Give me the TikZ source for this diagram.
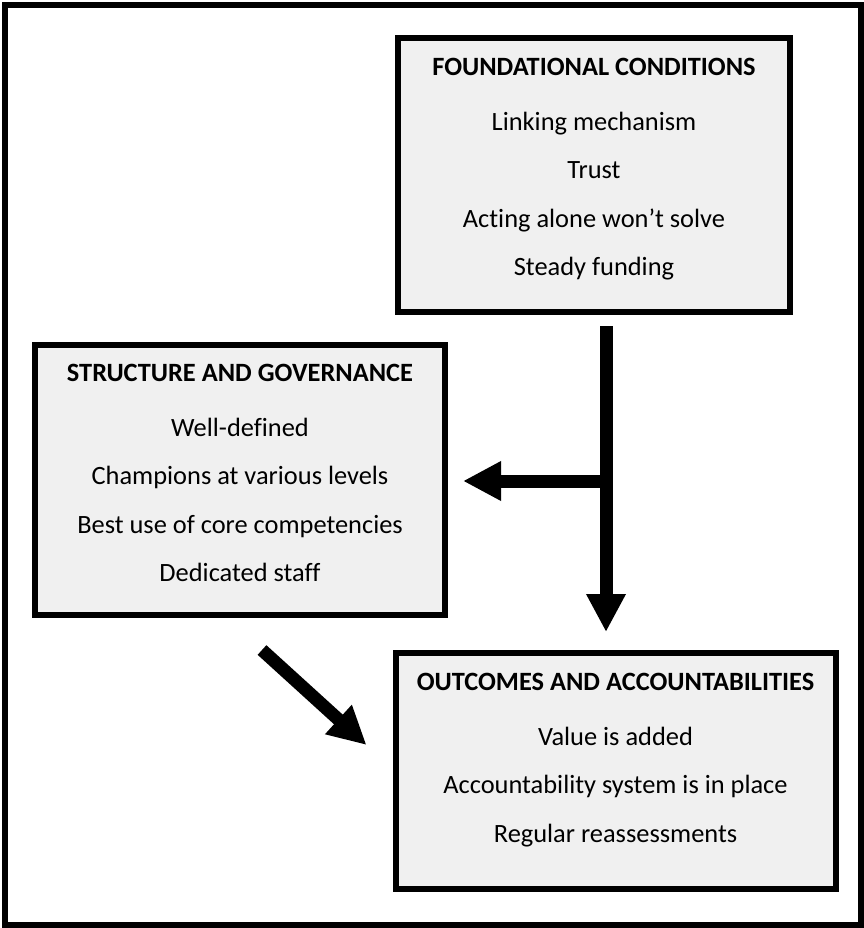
\documentclass[tikz,border=0pt]{standalone}
\usepackage{xcolor}
\usepackage{fontspec}
\setmainfont{Carlito}[Ligatures=NoCommon]
\usepackage{tikz}
\usetikzlibrary{arrows.meta}

\begin{document}
\begin{tikzpicture}[x=1pt, y=-1pt,
    box/.style={draw, line width=6pt, fill={rgb:black,1;white,16}, inner sep=0pt, outer sep=0pt},
    lines/.style={align=center, inner sep=0pt, anchor=north, font=\fontsize{26.4pt}{48.5pt}\selectfont},
    bigarrow/.style={line width=13pt, -{Triangle[width=37pt, length=38pt]}}]
    \useasboundingbox (0,0) rectangle (863,928);
    % Frame
    \draw[line width=6pt] (5,5) rectangle (861,925);
    % Boxes
    \node[box, minimum width=392pt, minimum height=274pt] (fc) at (594,175) {};
    \node[box, minimum width=410pt, minimum height=270pt] (sg) at (240,480) {};
    \node[box, minimum width=440pt, minimum height=236pt] (oa) at (615.5,771) {};
    % Texts
    \node[lines] (fctext) at ([yshift=-20pt]fc.north) {\textbf{FOUNDATIONAL CONDITIONS}\\[6pt]
        Linking mechanism\\ Trust\\ Acting alone won’t solve\\ Steady funding};
    \node[lines] (sgtext) at ([yshift=-19pt]sg.north) {\textbf{STRUCTURE AND GOVERNANCE}\\[6pt]
        Well-defined\\ Champions at various levels\\ Best use of core competencies\\ Dedicated staff};
    \node[lines] (oatext) at ([yshift=-20pt]oa.north) {\textbf{OUTCOMES AND ACCOUNTABILITIES}\\[6pt]
        Value is added\\ Accountability system is in place\\ Regular reassessments};
    % Edges
    \coordinate (fork) at (606,481);
    % Foundational conditions to outcomes
    \draw[bigarrow] ([yshift=-14pt]fc.south -| fork) -- ([yshift=21pt]oa.north -| fork);
    % Foundational conditions to structure
    \draw[bigarrow] ([xshift=6.5pt]fork) -- ([xshift=18pt]sg.east |- fork);
    % Structure to outcomes
    \draw[bigarrow] ([xshift=22pt, yshift=-35pt]sg.south) -- ([xshift=-29pt, yshift=26pt]oa.west);
\end{tikzpicture}
\end{document}
